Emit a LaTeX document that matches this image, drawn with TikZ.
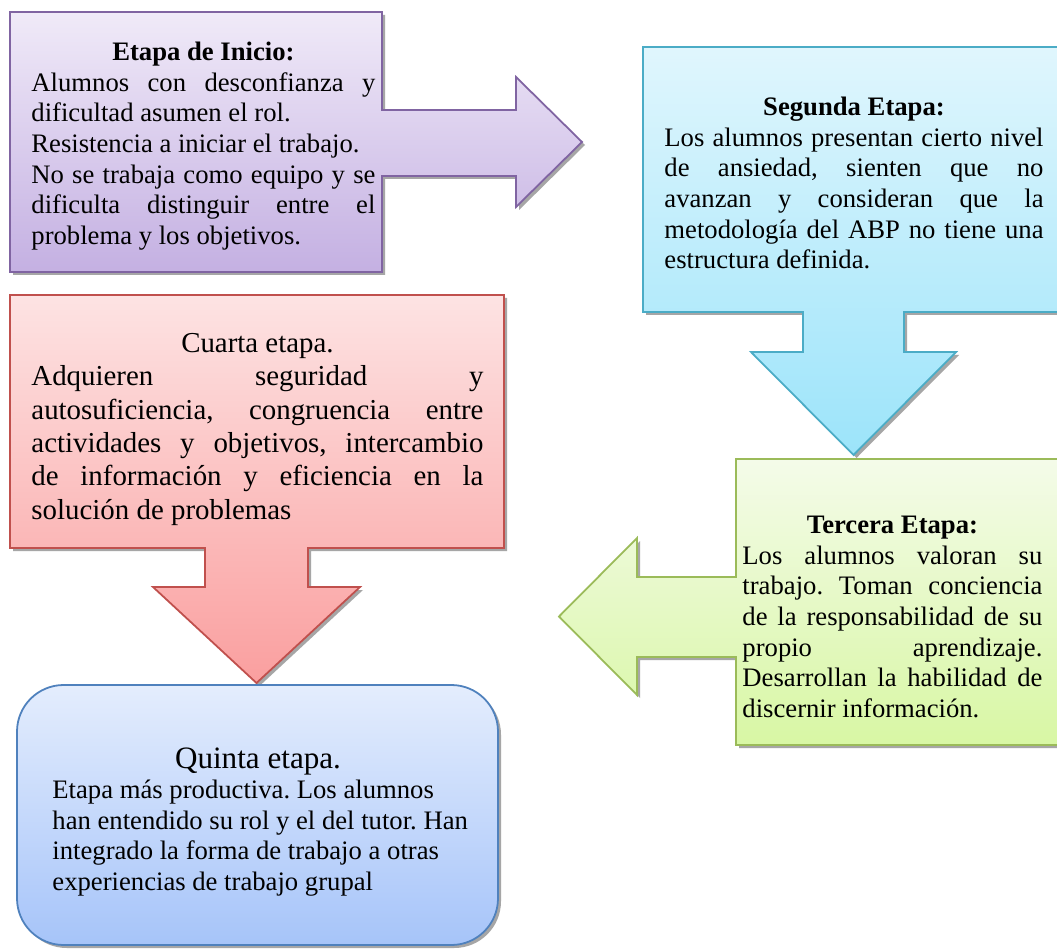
\documentclass[tikz,border=0pt]{standalone}
\usepackage{fontspec}
\setmainfont{Liberation Serif}
\frenchspacing
\definecolor{purT}{HTML}{F0EAF8}
\definecolor{purB}{HTML}{C4B0E2}
\definecolor{purD}{HTML}{8064A2}
\definecolor{bluT}{HTML}{E0F6FD}
\definecolor{bluB}{HTML}{9CE4FA}
\definecolor{bluD}{HTML}{4BACC6}
\definecolor{redT}{HTML}{FDE3E3}
\definecolor{redB}{HTML}{FA9F9F}
\definecolor{redD}{HTML}{C0504D}
\definecolor{grnT}{HTML}{F4FBE9}
\definecolor{grnB}{HTML}{D8F7A4}
\definecolor{grnD}{HTML}{9BBB59}
\definecolor{quiT}{HTML}{E4EDFD}
\definecolor{quiB}{HTML}{A6C4F9}
\definecolor{quiD}{HTML}{4F81BD}
\newcommand\jl[2]{\makebox[#1][s]{#2}}
\newcommand\ctr[2]{\makebox[#1]{#2}}
\newcommand\purpleshape[1]{\path[#1] (10,12) -- (382,12) -- (382,110) -- (516,110) -- (516,77) -- (582,142) -- (516,207) -- (516,176) -- (382,176) -- (382,272) -- (10,272) -- cycle;}
\newcommand\blueshape[1]{\path[#1] (643,47) -- (1070,47) -- (1070,312) -- (904,312) -- (904,352) -- (956,352) -- (853.5,455) -- (751,352) -- (803,352) -- (803,312) -- (643,312) -- cycle;}
\newcommand\redshape[1]{\path[#1] (10,295) -- (504,295) -- (504,548) -- (308,548) -- (308,587) -- (360,587) -- (256.5,683) -- (153,587) -- (205,587) -- (205,548) -- (10,548) -- cycle;}
\newcommand\greenshape[1]{\path[#1] (736,459) -- (1070,459) -- (1070,745) -- (736,745) -- (736,657) -- (637,657) -- (637,695) -- (559,616.5) -- (637,538) -- (637,577) -- (736,577) -- cycle;}
\newcommand\quishape[1]{\path[#1, rounded corners=21pt] (17,685) rectangle (498,945);}
\begin{document}
\begin{tikzpicture}[x=0.45pt,y=-0.45pt,
  shade/.style={fill=black!35, shift={(3,3)}},
  body/.style={inner sep=0pt, anchor=north west, align=left, font=\fontsize{12}{13.8}\selectfont},
  bodyl/.style={inner sep=0pt, anchor=north west, align=left, font=\fontsize{13}{15}\selectfont},
  edge/.style={line width=0.8pt, line join=miter}]
\useasboundingbox[fill=white] (0,0) rectangle (1057,949);
% shadows
\purpleshape{shade}
\blueshape{shade}
\redshape{shade}
\greenshape{shade}
\quishape{shade}
% shapes
\purpleshape{edge, draw=purD, top color=purT, bottom color=purB}
\blueshape{edge, draw=bluD, top color=bluT, bottom color=bluB}
\redshape{edge, draw=redD, top color=redT, bottom color=redB}
\greenshape{edge, draw=grnD, top color=grnT, bottom color=grnB}
\quishape{edge, draw=quiD, top color=quiT, bottom color=quiB}
% texts
\node[body] (t1) at (31,38.5) {\strut\ctr{154.8pt}{\textbf{Etapa de Inicio:}}\\
 \jl{154.8pt}{Alumnos con desconfianza y}\\
 dificultad asumen el rol.\\
 Resistencia a iniciar el trabajo.\\
 \jl{154.8pt}{No se trabaja como equipo y se}\\
 \jl{154.8pt}{dificulta distinguir entre el}\\
 problema y los objetivos.};
\node[body] (t2) at (664,93.5) {\strut\ctr{170.6pt}{\textbf{Segunda Etapa:}}\\
 \jl{170.6pt}{Los alumnos presentan cierto nivel}\\
 \jl{170.6pt}{de ansiedad, sienten que no}\\
 \jl{170.6pt}{avanzan y consideran que la}\\
 \jl{170.6pt}{metodología del ABP no tiene una}\\
 estructura definida.};
\node[bodyl] (t4) at (31,328.7) {\strut\ctr{203.4pt}{Cuarta etapa.}\\
 \jl{203.4pt}{Adquieren seguridad y}\\
 \jl{203.4pt}{autosuficiencia, congruencia entre}\\
 \jl{203.4pt}{actividades y objetivos, intercambio}\\
 \jl{203.4pt}{de información y eficiencia en la}\\
 solución de problemas};
\node[body] (t3) at (742,511.5) {\strut\ctr{135pt}{\textbf{Tercera Etapa:}}\\
 \jl{135pt}{Los alumnos valoran su}\\
 \jl{135pt}{trabajo. Toman conciencia}\\
 \jl{135pt}{de la responsabilidad de su}\\
 \jl{135pt}{propio aprendizaje.}\\
 \jl{135pt}{Desarrollan la habilidad de}\\
 discernir información.};
\node[inner sep=0pt, anchor=base, font=\fontsize{14}{16}\selectfont] (t5a) at (258,768) {Quinta etapa.};
\node[body] (t5) at (52,776.5) {\strut Etapa más productiva. Los alumnos\\
 han entendido su rol y el del tutor. Han\\
 integrado la forma de trabajo a otras\\
 experiencias de trabajo grupal};
\end{tikzpicture}
\end{document}
